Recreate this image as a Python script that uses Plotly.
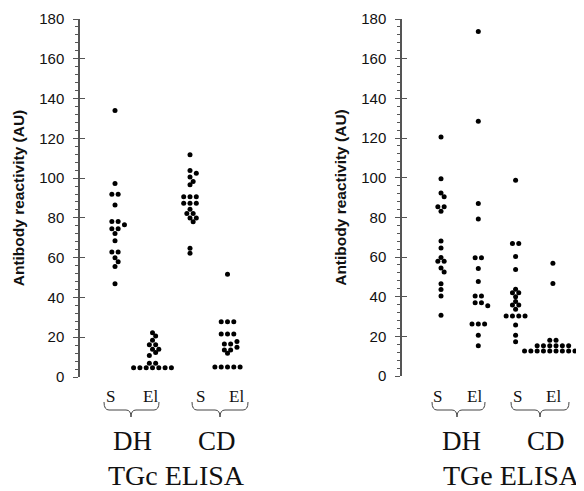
import plotly.graph_objects as go
from collections import Counter

# ---------------- data ----------------
categories = ["S", "El", "S", "El"]
groups = ["DH", "CD"]
panels = ["TGc ELISA", "TGe ELISA"]
y_ticks = list(range(0, 181, 20))

tgc_dh_s = [134.0, 97.3, 91.9, 91.9, 86.5, 78.2, 78.2, 76.6, 74.5, 74.5, 72.2, 68.5,
            62.9, 62.9, 60.0, 58.0, 55.6, 46.9]
tgc_dh_el = [22.3, 20.6, 18.5, 16.2, 16.2, 14.0, 14.0, 12.3, 10.8, 6.9, 6.9,
             4.6, 4.6, 4.6, 4.6, 4.6, 4.6, 4.6]
tgc_cd_s = [111.7, 103.8, 102.4, 100.5, 98.3, 96.6, 90.6, 90.6, 90.6, 87.3, 87.3, 87.3,
            84.3, 82.2, 82.2, 80.0, 80.0, 78.0, 64.7, 62.2]
tgc_cd_el = [51.6, 27.8, 27.8, 27.8, 21.6, 21.6, 21.6, 17.8, 16.6, 16.6, 14.9, 13.6, 13.6,
             11.9, 5.0, 5.0, 5.0, 5.0, 5.0]

tge_dh_s = [120.5, 99.5, 92.3, 90.4, 85.3, 85.3, 83.1, 68.1, 64.6, 59.8, 57.9, 57.9,
            54.4, 52.5, 46.5, 43.6, 40.3, 30.6]
tge_dh_el = [173.7, 128.5, 87.0, 79.1, 59.6, 59.6, 54.2, 47.7, 40.3, 40.3, 36.9, 36.9,
             35.4, 26.2, 26.2, 26.2, 20.5, 15.3]
tge_cd_s = [98.7, 66.8, 66.8, 60.3, 53.7, 43.8, 42.0, 42.0, 40.0, 37.6, 35.8, 35.8, 33.6,
            30.2, 30.2, 30.2, 30.2, 25.7, 20.6, 17.3]
tge_cd_el = [56.9, 46.7, 18.0, 18.0, 15.2, 15.2, 15.2, 15.2, 15.2, 15.2,
             12.6, 12.6, 12.6, 12.6, 12.6, 12.6, 12.6, 12.6, 12.6, 12.6]

left_series = [tgc_dh_s, tgc_dh_el, tgc_cd_s, tgc_cd_el]
right_series = [tge_dh_s, tge_dh_el, tge_cd_s, tge_cd_el]

# ---------------- layout helpers ----------------
# the page body has an 8px margin, so the figure starts at (8, 8) in the window
OFF = 8
W, H = 584 - OFF, 491 - OFF


def px(x):
    return (x - OFF) / W


def py(y):
    return 1 - (y - OFF) / H


KY = 358 / 180.0          # px per y unit
KX_L, KX_R = 37.5, 37.3   # px per x unit
XR_L = [1 - 35 / KX_L, 1 - 35 / KX_L + 172 / KX_L]
XR_R = [1 - 39 / KX_R, 1 - 39 / KX_R + 182 / KX_R]


def swarm(vals, kx, spacing=6.3, collide=4.6):
    cnt = Counter(vals)
    order = sorted(cnt, key=lambda v: (-cnt[v], -v))
    cands = [0.0]
    for i in range(1, 40):
        cands += [i * spacing / 2, -i * spacing / 2]
    placed, res = [], {}
    for v in order:
        n = cnt[v]
        yp = v * KY
        xs = None
        for c in cands:
            xs = [c + (i - (n - 1) / 2) * spacing for i in range(n)]
            if all((x - a) ** 2 + (yp - b) ** 2 >= collide ** 2 for x in xs for (a, b) in placed):
                break
        placed += [(x, yp) for x in xs]
        res[v] = xs
    used = {v: 0 for v in cnt}
    out = []
    for v in vals:
        out.append(res[v][used[v]] / kx)
        used[v] += 1
    return out


fig = go.Figure()

for series, kx, xa, ya in [(left_series, KX_L, "x", "y"), (right_series, KX_R, "x2", "y2")]:
    for i, vals in enumerate(series):
        offs = swarm(vals, kx)
        fig.add_trace(go.Scatter(
            x=[i + 1 + o for o in offs], y=vals, mode="markers",
            marker=dict(color="black", size=5, line=dict(width=0)),
            xaxis=xa, yaxis=ya, cliponaxis=False, showlegend=False, hoverinfo="y"))

# invisible traces for overlay (inside tick) axes
fig.add_trace(go.Scatter(x=[1], y=[0], xaxis="x", yaxis="y3", mode="markers",
                         marker=dict(opacity=0), showlegend=False, hoverinfo="skip"))
fig.add_trace(go.Scatter(x=[1], y=[0], xaxis="x2", yaxis="y4", mode="markers",
                         marker=dict(opacity=0), showlegend=False, hoverinfo="skip"))

axis_color = "#555"
tick_font = dict(family="Liberation Sans, Arial, sans-serif", size=15, color="#111")


def yaxis_main(domain, anchor):
    return dict(
        domain=domain, anchor=anchor, range=[0, 180], tickvals=y_ticks, automargin=False,
        showline=True, linecolor=axis_color, linewidth=1.5,
        ticks="outside", ticklen=5, tickwidth=1.2, tickcolor=axis_color,
        minor=dict(dtick=4, ticks="outside", ticklen=3.5, tickwidth=1, tickcolor=axis_color),
        showgrid=False, zeroline=False, tickfont=tick_font, ticklabelstandoff=6,
        title=dict(text="<b>Antibody reactivity (AU)</b>", standoff=11,
                   font=dict(family="Liberation Sans, Arial, sans-serif", size=15.5, color="#111")),
    )


def yaxis_inside(over, anchor, domain):
    return dict(
        overlaying=over, anchor=anchor, domain=domain, range=[0, 180], tickvals=y_ticks,
        ticks="inside", ticklen=5, tickwidth=1.2, tickcolor=axis_color, automargin=False,
        showticklabels=False, showline=False, showgrid=False, zeroline=False,
    )


dom_l = [py(377), py(19)]
dom_r = [py(376), py(19)]
xa_common = dict(showline=False, showticklabels=False, ticks="", showgrid=False,
                 zeroline=False, automargin=False)

fig.update_layout(
    template="none",
    width=W, height=H, margin=dict(l=0, r=0, t=0, b=0, pad=0), autosize=False,
    showlegend=False,
    paper_bgcolor="white", plot_bgcolor="white",
    xaxis=dict(domain=[px(80), px(252)], range=XR_L, anchor="y", **xa_common),
    xaxis2=dict(domain=[px(402), 1.0], range=XR_R, anchor="y2", **xa_common),
    yaxis=yaxis_main(dom_l, "x"),
    yaxis2=yaxis_main(dom_r, "x2"),
    yaxis3=yaxis_inside("y", "x", dom_l),
    yaxis4=yaxis_inside("y2", "x2", dom_r),
)

serif = "Liberation Serif, Times New Roman, serif"

# sub labels (S / El) and group labels, braces
sub_x = [110, 150, 200, 236, 437, 474, 517, 553]
grp_x = [132, 217, 461, 546]
brace_px = [(104, 159, 131), (192, 248, 220), (432, 485, 457), (511, 569, 540)]
panel_x = [176, 511]


def label(xp, yp, text, size):
    fig.add_annotation(x=px(xp), y=py(yp), xref="paper", yref="paper",
                       xanchor="center", yanchor="middle", text=text, showarrow=False,
                       font=dict(family=serif, size=size, color="#111"))


for j, xp in enumerate(sub_x):
    label(xp, 396, categories[j % 4], 17)
for j, xp in enumerate(grp_x):
    label(xp, 441, groups[j % 2], 27)
for j, xp in enumerate(panel_x):
    label(xp, 475, panels[j], 28)


def brace_path(x0, x1, xm, ytop=402, ymid=410, ytip=417, r=5):
    X = px
    Y = py
    return (f"M {X(x0)},{Y(ytop)} Q {X(x0)},{Y(ymid)} {X(x0 + r)},{Y(ymid)} "
            f"L {X(xm - r)},{Y(ymid)} Q {X(xm)},{Y(ymid)} {X(xm)},{Y(ytip)} "
            f"Q {X(xm)},{Y(ymid)} {X(xm + r)},{Y(ymid)} "
            f"L {X(x1 - r)},{Y(ymid)} Q {X(x1)},{Y(ymid)} {X(x1)},{Y(ytop)}")


for (x0, x1, xm) in brace_px:
    fig.add_shape(type="path", path=brace_path(x0, x1, xm), xref="paper", yref="paper",
                  line=dict(color="#444", width=1))

fig.write_html("out.html")
